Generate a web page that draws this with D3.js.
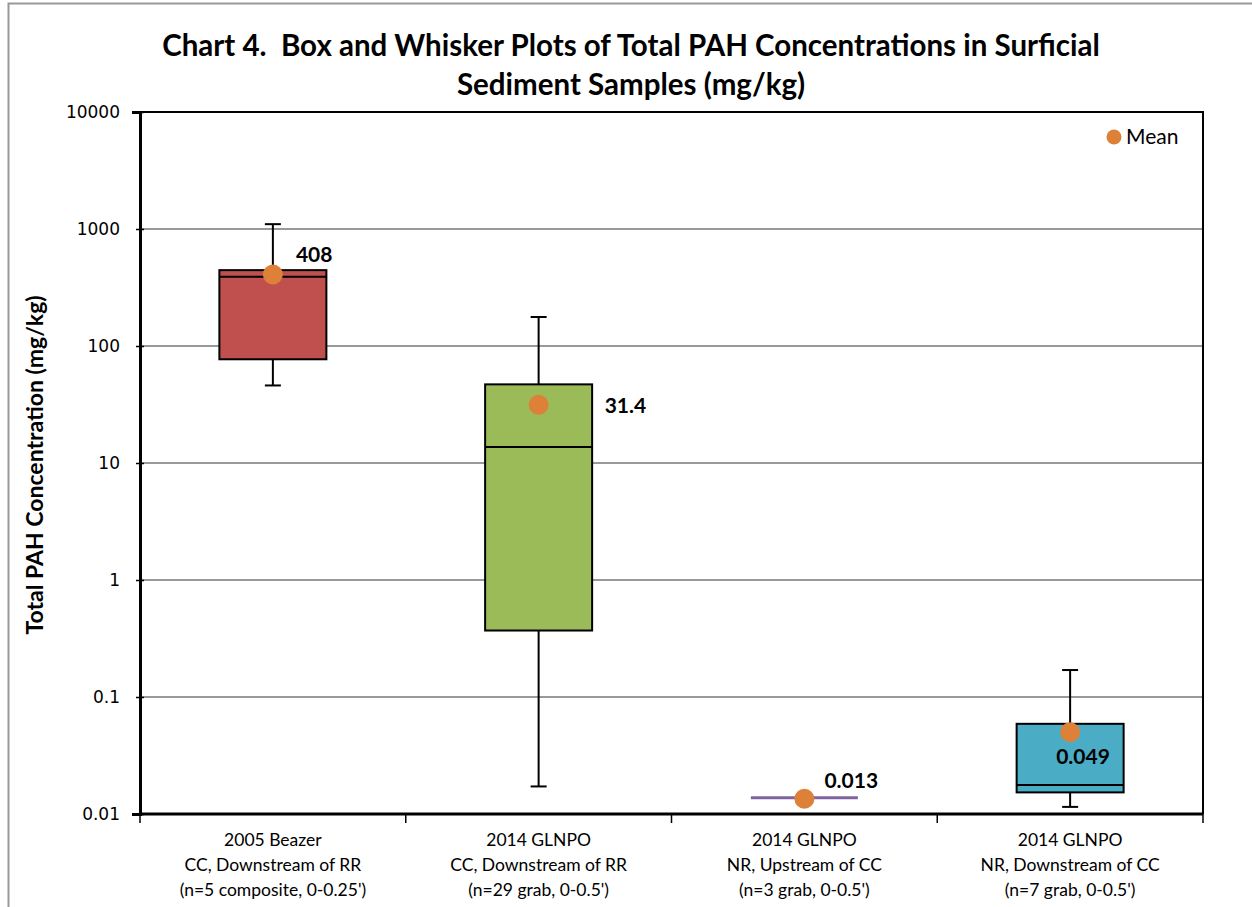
<!DOCTYPE html>
<html lang="en">
<head>
<meta charset="UTF-8">
<title>Chart 4</title>
<script src="https://d3js.org/d3.v7.min.js"></script>
<style>
  body { margin: 0; background: #fff; }
  svg { display: block; }
  .title { white-space: pre; }
</style>
</head>
<body>
<svg id="chart" width="1252" height="907"></svg>
<script>
// category labels (three lines each)
const groups = ["2005 Beazer", "2014 GLNPO", "2014 GLNPO", "2014 GLNPO"];
const locations = ["CC, Downstream of RR", "CC, Downstream of RR", "NR, Upstream of CC", "NR, Downstream of CC"];
const samples = ["(n=5 composite, 0-0.25')", "(n=29 grab, 0-0.5')", "(n=3 grab, 0-0.5')", "(n=7 grab, 0-0.5')"];

// box statistics (mg/kg)
const whiskerMax = [1100, 177, 0.0138, 0.17];
const q3 = [445, 47, 0.0138, 0.059];
const median = [390, 13.7, 0.0138, 0.0177];
const q1 = [77, 0.37, 0.0138, 0.0153];
const whiskerMin = [46, 0.0172, 0.0138, 0.0115];
const means = [408, 31.4, 0.0135, 0.05];
const meanLabels = ["408", "31.4", "0.013", "0.049"];
const boxColors = ["#C0504D", "#9BBB59", "#8064A2", "#4BACC6"];

const yTicks = [0.01, 0.1, 1, 10, 100, 1000, 10000];

const svg = d3.select("#chart");
const margin = { top: 112, right: 49, bottom: 93, left: 140 };
const W = +svg.attr("width"), H = +svg.attr("height");
const innerW = W - margin.left - margin.right;
const innerH = H - margin.top - margin.bottom;

// outer chart border
svg.append("rect")
  .attr("x", 8.5).attr("y", 3.5)
  .attr("width", 1260).attr("height", 920)
  .attr("fill", "none").attr("stroke", "#999").attr("stroke-width", 2);

// title
const title = svg.append("text")
  .attr("class", "title")
  .attr("text-anchor", "middle")
  .attr("font-family", "Lato, 'Open Sans', sans-serif")
  .attr("font-weight", "bold")
  .attr("font-size", 29.5)
  .attr("fill", "#000");
title.append("tspan").attr("x", 631).attr("y", 56)
  .text("Chart 4.  Box and Whisker Plots of Total PAH Concentrations in Surficial");
title.append("tspan").attr("x", 631).attr("y", 95)
  .text("Sediment Samples (mg/kg)");

const g = svg.append("g").attr("transform", `translate(${margin.left},${margin.top})`);

const x = d3.scaleBand().domain(d3.range(groups.length)).range([0, innerW]);
const y = d3.scaleLog().domain([0.01, 10000]).range([innerH, 0]);

// gridlines
g.append("g").selectAll("line")
  .data(yTicks.slice(1, -1))
  .join("line")
  .attr("x1", 0).attr("x2", innerW)
  .attr("y1", d => y(d)).attr("y2", d => y(d))
  .attr("stroke", "#999").attr("stroke-width", 2);

// plot frame (top, right)
g.append("path")
  .attr("d", `M0,0H${innerW}V${innerH}`)
  .attr("fill", "none").attr("stroke", "#000").attr("stroke-width", 2);

// y axis
const yAxis = g.append("g")
  .call(d3.axisLeft(y).tickValues(yTicks).tickFormat(d => String(d)).tickSize(8).tickPadding(12))
  .call(s => s.select(".domain").attr("stroke-width", 3));
yAxis.selectAll(".tick line").attr("stroke-width", 1.5).attr("transform", "translate(4,0)");
yAxis.selectAll("text")
  .attr("font-family", "'DejaVu Sans', Verdana, sans-serif")
  .attr("font-size", 17).attr("fill", "#000");

// x axis
const xAxis = g.append("g").attr("transform", `translate(0,${innerH})`);
xAxis.append("line")
  .attr("x1", 0).attr("x2", innerW)
  .attr("stroke", "#000").attr("stroke-width", 3);
xAxis.selectAll(".xt")
  .data(d3.range(groups.length + 1))
  .join("line")
  .attr("class", "xt")
  .attr("x1", d => d === groups.length ? innerW : x(d))
  .attr("x2", d => d === groups.length ? innerW : x(d))
  .attr("y1", 0).attr("y2", 9)
  .attr("stroke", "#000").attr("stroke-width", 1.5);

const lab = xAxis.selectAll(".xl")
  .data(d3.range(groups.length))
  .join("text")
  .attr("class", "xl")
  .attr("text-anchor", "middle")
  .attr("font-family", "Lato, 'Open Sans', sans-serif")
  .attr("font-size", 17.5)
  .attr("fill", "#000");
lab.append("tspan").attr("x", d => x(d) + x.bandwidth() / 2).attr("y", 32).text(d => groups[d]);
lab.append("tspan").attr("x", d => x(d) + x.bandwidth() / 2).attr("y", 57).text(d => locations[d]);
lab.append("tspan").attr("x", d => x(d) + x.bandwidth() / 2).attr("y", 82).text(d => samples[d]);

// y axis title
svg.append("text")
  .attr("transform", `translate(43,${margin.top + 353}) rotate(-90)`)
  .attr("text-anchor", "middle")
  .attr("font-family", "Lato, 'Open Sans', sans-serif")
  .attr("font-weight", "bold")
  .attr("font-size", 23)
  .attr("fill", "#000")
  .text("Total PAH Concentration (mg/kg)");

// boxes
const boxW = 107;
const cx = i => x(i) + x.bandwidth() / 2;
const boxes = g.append("g").selectAll("g")
  .data(d3.range(groups.length))
  .join("g");

boxes.each(function (i) {
  const b = d3.select(this);
  const flat = q3[i] === q1[i];
  if (flat) {
    b.append("line")
      .attr("x1", cx(i) - boxW / 2).attr("x2", cx(i) + boxW / 2)
      .attr("y1", y(median[i])).attr("y2", y(median[i]))
      .attr("stroke", boxColors[i]).attr("stroke-width", 3);
    return;
  }
  // whiskers
  b.append("line")
    .attr("x1", cx(i)).attr("x2", cx(i))
    .attr("y1", y(whiskerMax[i])).attr("y2", y(whiskerMin[i]))
    .attr("stroke", "#000").attr("stroke-width", 2);
  [whiskerMax[i], whiskerMin[i]].forEach(v => {
    b.append("line")
      .attr("x1", cx(i) - 8).attr("x2", cx(i) + 8)
      .attr("y1", y(v)).attr("y2", y(v))
      .attr("stroke", "#000").attr("stroke-width", 2);
  });
  b.append("rect")
    .attr("x", cx(i) - boxW / 2).attr("width", boxW)
    .attr("y", y(q3[i])).attr("height", y(q1[i]) - y(q3[i]))
    .attr("fill", boxColors[i]).attr("stroke", "#000").attr("stroke-width", 2);
  b.append("line")
    .attr("x1", cx(i) - boxW / 2).attr("x2", cx(i) + boxW / 2)
    .attr("y1", y(median[i])).attr("y2", y(median[i]))
    .attr("stroke", "#000").attr("stroke-width", 2);
});

// means
const labelOffsets = [[23, -13], [66, 8], [20, -11], [-14, 32]];
boxes.append("circle")
  .attr("cx", i => cx(i)).attr("cy", i => y(means[i]))
  .attr("r", 10).attr("fill", "#DD8139");
boxes.append("text")
  .attr("x", i => cx(i) + labelOffsets[i][0])
  .attr("y", i => y(means[i]) + labelOffsets[i][1])
  .attr("font-family", "Lato, 'Open Sans', sans-serif")
  .attr("font-weight", "bold")
  .attr("font-size", 21)
  .attr("fill", "#000")
  .text(i => meanLabels[i]);

// legend
const leg = svg.append("g").attr("transform", "translate(1114,137)");
leg.append("circle").attr("r", 7.5).attr("fill", "#DD8139");
leg.append("text")
  .attr("x", 12).attr("y", 7)
  .attr("font-family", "Lato, 'Open Sans', sans-serif")
  .attr("font-size", 21).attr("fill", "#000")
  .text("Mean");
</script>
</body>
</html>
